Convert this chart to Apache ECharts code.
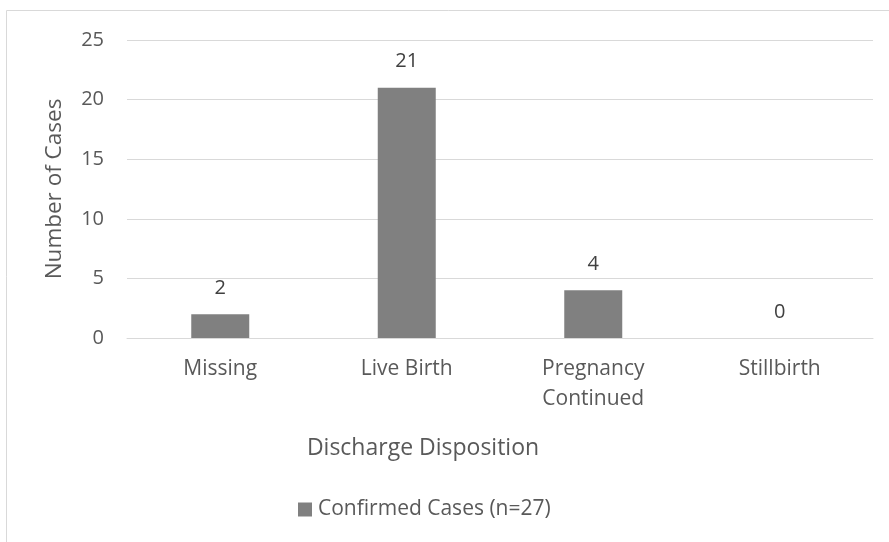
<!DOCTYPE html>
<html>
<head>
<meta charset="utf-8">
<script src="https://cdn.jsdelivr.net/npm/echarts@6/dist/echarts.min.js"></script>
<style>
  html, body { margin: 0; padding: 0; background: #fff; }
  #chart { width: 889px; height: 542px; }
</style>
</head>
<body>
<div id="chart"></div>
<script>
var categories = ["Missing", "Live Birth", "Pregnancy\nContinued", "Stillbirth"];
var cases = [2, 21, 4, 0];
var yTicks = [0, 5, 10, 15, 20, 25];

var font = "'Open Sans', sans-serif";
var textColor = "#595959";

var myChart = echarts.init(document.getElementById("chart"));
var option = {
  animation: false,
  textStyle: { fontFamily: font },
  grid: { left: 127, right: 16, top: 40, bottom: 204 },
  legend: {
    data: ["Confirmed Cases (n=27)"],
    left: 298,
    top: 499,
    padding: 0,
    itemWidth: 14,
    itemHeight: 14,
    icon: "rect",
    textStyle: { color: textColor, fontSize: 21, fontFamily: font, padding: [0, 0, 0, 1] }
  },
  graphic: [
    {
      type: "rect",
      shape: { x: 6.5, y: 10.5, width: 900, height: 600 },
      style: { fill: "none", stroke: "#d9d9d9", lineWidth: 1 },
      silent: true
    },
    {
      type: "text",
      x: 423,
      y: 448,
      style: {
        text: "Discharge Disposition",
        fill: textColor,
        fontSize: 23,
        fontFamily: font,
        align: "center",
        verticalAlign: "middle"
      }
    }
  ],
  xAxis: {
    type: "category",
    data: categories,
    axisLine: { lineStyle: { color: "#d9d9d9" } },
    axisTick: { show: false },
    axisLabel: { color: textColor, fontSize: 21, lineHeight: 30, margin: 16, fontFamily: font }
  },
  yAxis: {
    type: "value",
    min: yTicks[0],
    max: yTicks[yTicks.length - 1],
    interval: 5,
    name: "Number of Cases",
    nameLocation: "middle",
    nameGap: 61,
    nameTextStyle: { color: textColor, fontSize: 22.5, fontFamily: font },
    axisLine: { show: false },
    axisTick: { show: false },
    splitLine: { lineStyle: { color: "#d9d9d9" } },
    axisLabel: { color: textColor, fontSize: 20, margin: 23, fontFamily: font }
  },
  series: [
    {
      name: "Confirmed Cases (n=27)",
      type: "bar",
      data: cases,
      barWidth: 58,
      itemStyle: { color: "#808080" },
      label: {
        show: true,
        position: "top",
        distance: 16,
        color: "#404040",
        fontSize: 20,
        fontFamily: font
      }
    }
  ]
};
myChart.setOption(option);
</script>
</body>
</html>
